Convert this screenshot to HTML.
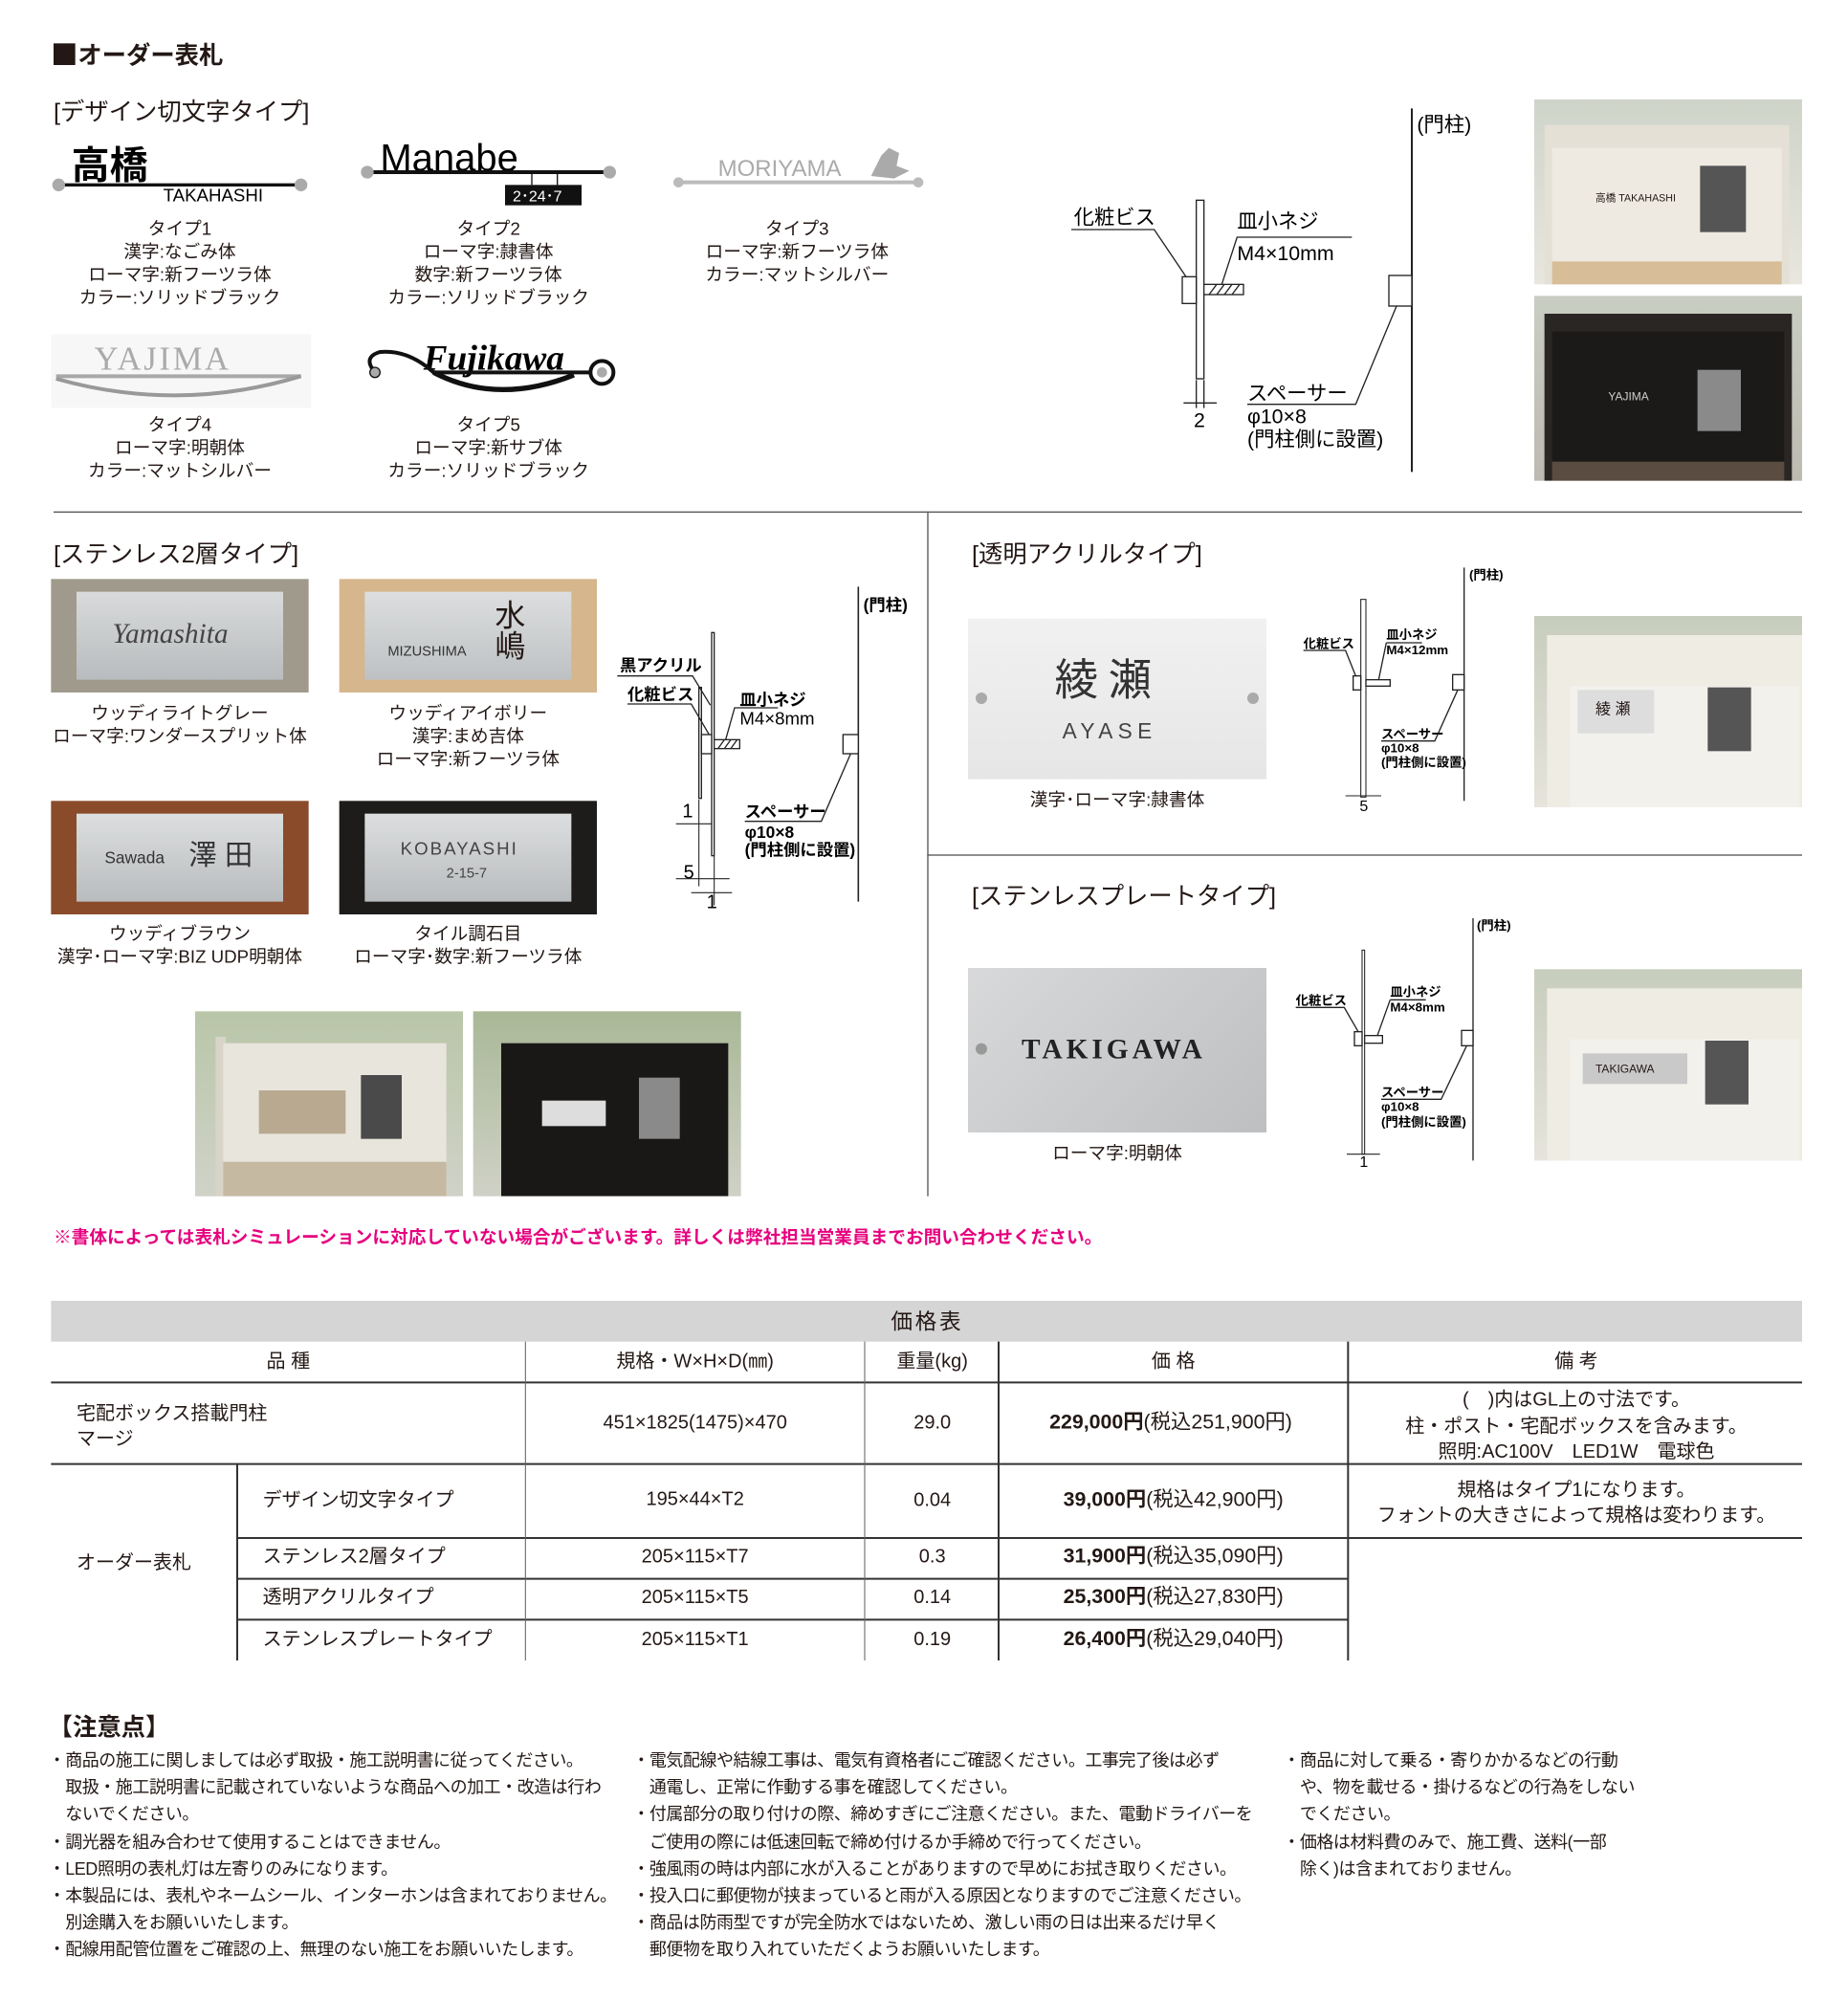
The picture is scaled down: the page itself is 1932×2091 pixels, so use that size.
<!DOCTYPE html>
<html><head><meta charset="utf-8"><style>
html,body{margin:0;padding:0;background:#fff}
body{width:1932px;height:2090px;overflow:hidden;position:relative}
#w{position:absolute;left:0;top:0;width:1449px;height:1568px;transform:scale(1.33333);transform-origin:0 0;font-family:"Liberation Sans","Noto Sans CJK JP",sans-serif;color:#231815}
.a{position:absolute;white-space:nowrap;line-height:1}
.c{position:absolute;text-align:center;font-size:14px;line-height:18px;width:260px;white-space:nowrap}
.h{font-size:19px;font-weight:bold}
.p{position:absolute;overflow:hidden}
.tb{position:absolute;font-size:15px;line-height:1;white-space:nowrap}
.n{position:absolute;font-size:13.5px;line-height:21.2px;white-space:nowrap;letter-spacing:-0.35px}
</style></head><body><div id="w">

<div class="a h" style="left:42px;top:34px"><span style="display:inline-block;width:17px;height:17px;background:#231815;vertical-align:-1px;margin-right:2px"></span>オーダー表札</div>
<div class="a h" style="left:42px;top:79px;font-weight:normal;font-size:19px">[デザイン切文字タイプ]</div>

<!-- type 1 -->
<svg class="p" style="left:40px;top:108px" width="204" height="54">
<text x="16" y="32" font-size="30" font-weight="bold" font-family="Noto Sans CJK JP">高橋</text>
<line x1="6" y1="37" x2="196" y2="37" stroke="#111" stroke-width="2.5"/>
<circle cx="6" cy="37" r="5" fill="#aaa"/><circle cx="196" cy="37" r="5" fill="#aaa"/>
<text x="88" y="50" font-size="14" font-family="Liberation Sans">TAKAHASHI</text></svg>
<div class="c" style="left:11px;top:170px">タイプ1<br>漢字:なごみ体<br>ローマ字:新フーツラ体<br>カラー:ソリッドブラック</div>
<!-- type 2 -->
<svg class="p" style="left:282px;top:104px" width="204" height="60">
<text x="16" y="30" font-size="30" font-family="Liberation Sans">Manabe</text>
<line x1="6" y1="31" x2="196" y2="31" stroke="#111" stroke-width="3"/>
<circle cx="6" cy="31" r="5" fill="#aaa"/><circle cx="196" cy="31" r="5" fill="#aaa"/>
<rect x="114" y="41" width="60" height="16" fill="#111"/>
<line x1="135" y1="31" x2="135" y2="41" stroke="#111"/><line x1="155" y1="31" x2="155" y2="41" stroke="#111"/>
<text x="120" y="54" font-size="12" fill="#fff" font-family="Liberation Sans">2･24･7</text></svg>
<div class="c" style="left:253px;top:170px">タイプ2<br>ローマ字:隷書体<br>数字:新フーツラ体<br>カラー:ソリッドブラック</div>
<!-- type 3 -->
<svg class="p" style="left:525px;top:110px" width="202" height="44">
<text x="38" y="28" font-size="18" fill="#aaa" font-family="Liberation Sans">MORIYAMA</text>
<path d="M4 33 H198" stroke="#bbb" stroke-width="3"/><circle cx="7" cy="33" r="4" fill="#bbb"/><circle cx="195" cy="33" r="4" fill="#bbb"/>
<path d="M158 28 L166 12 L172 6 L180 10 L178 20 L188 24 L176 30Z" fill="#aaa"/></svg>
<div class="c" style="left:495px;top:170px">タイプ3<br>ローマ字:新フーツラ体<br>カラー:マットシルバー</div>
<!-- type 4 -->
<svg class="p" style="left:40px;top:262px" width="204" height="58">
<rect width="204" height="58" fill="#f7f7f7"/>
<text x="34" y="28" font-size="26" fill="#aaa" font-family="Liberation Serif" letter-spacing="2">YAJIMA</text>
<line x1="4" y1="33" x2="196" y2="33" stroke="#a8a8a8" stroke-width="3"/>
<path d="M4 35 Q100 62 196 33" stroke="#999" stroke-width="3" fill="none"/></svg>
<div class="c" style="left:11px;top:324px">タイプ4<br>ローマ字:明朝体<br>カラー:マットシルバー</div>
<!-- type 5 -->
<svg class="p" style="left:280px;top:262px" width="210" height="58">
<text x="52" y="28" font-size="28" font-style="italic" font-weight="bold" font-family="Liberation Serif">Fujikawa</text>
<path d="M14 30 Q4 18 18 14 Q40 12 60 30 H190" stroke="#111" stroke-width="3" fill="none"/>
<path d="M60 30 Q110 56 170 32" stroke="#111" stroke-width="4" fill="none"/>
<circle cx="14" cy="30" r="4" fill="#aaa" stroke="#111"/>
<circle cx="192" cy="30" r="9" fill="#fff" stroke="#111" stroke-width="3"/><circle cx="192" cy="30" r="4" fill="#aaa"/></svg>
<div class="c" style="left:253px;top:324px">タイプ5<br>ローマ字:新サブ体<br>カラー:ソリッドブラック</div>

<!-- diagram 1 -->
<svg class="p" style="left:830px;top:80px" width="350" height="300" font-family="Liberation Sans,Noto Sans CJK JP" font-size="16">
<line x1="277" y1="5" x2="277" y2="290" stroke="#222" stroke-width="1.5"/>
<text x="281" y="23">(門柱)</text>
<rect x="108" y="77" width="6" height="140" fill="#fff" stroke="#222"/>
<rect x="97" y="137" width="11" height="21" fill="#fff" stroke="#222"/>
<rect x="114" y="143" width="31" height="8" fill="#fff" stroke="#222"/>
<path d="M118 151 l6 -8 M124 151 l6 -8 M130 151 l6 -8 M136 151 l6 -8" stroke="#222"/>
<rect x="259" y="136" width="18" height="24" fill="#fff" stroke="#222"/>
<text x="12" y="96">化粧ビス</text><path d="M10 100 H75 L100 137" stroke="#222" fill="none"/>
<text x="140" y="99">皿小ネジ</text><path d="M230 106 H140 L128 143" stroke="#222" fill="none"/>
<text x="140" y="124">M4×10mm</text>
<text x="106" y="255">2</text><path d="M108 218 V240 M114 218 V240 M98 236 H124" stroke="#222"/>
<text x="148" y="234">スペーサー</text><path d="M148 237 H233 L265 160" stroke="#222" fill="none"/>
<text x="148" y="252">φ10×8</text><text x="148" y="270">(門柱側に設置)</text></svg>

<!-- photos top -->
<div class="p" style="left:1203px;top:78px;width:210px;height:145px;background:linear-gradient(#cfd4c9,#e8e6df)">
<div class="p" style="left:8px;top:20px;width:192px;height:125px;background:#e4e0d6"></div>
<div class="p" style="left:14px;top:38px;width:180px;height:90px;background:#eeeae2"></div>
<div class="p" style="left:14px;top:127px;width:180px;height:18px;background:#d7bd98"></div>
<div class="p" style="left:130px;top:52px;width:36px;height:52px;background:#555"></div>
<div class="a" style="left:48px;top:74px;font-size:8px">高橋 TAKAHASHI</div></div>
<div class="p" style="left:1203px;top:232px;width:210px;height:145px;background:linear-gradient(#c8cdc2,#bdbab2)">
<div class="p" style="left:8px;top:14px;width:194px;height:131px;background:#2a2624"></div>
<div class="p" style="left:14px;top:28px;width:182px;height:102px;background:#1c1a19"></div>
<div class="p" style="left:128px;top:58px;width:34px;height:48px;background:#8a8a8a"></div>
<div class="p" style="left:14px;top:130px;width:182px;height:15px;background:#5a4c40"></div>
<div class="a" style="left:58px;top:75px;font-size:9px;color:#ccc">YAJIMA</div></div>

<div class="p" style="left:42px;top:401px;width:1371px;height:1px;background:#555"></div>
<div class="p" style="left:727px;top:401px;width:1px;height:537px;background:#555"></div>
<div class="p" style="left:727px;top:670px;width:686px;height:1px;background:#555"></div>

<!-- stainless 2 -->
<div class="a h" style="left:42px;top:426px;font-weight:normal">[ステンレス2層タイプ]</div>
<div class="p" style="left:40px;top:454px;width:202px;height:89px;background:#a09a8c"><div class="p" style="left:20px;top:10px;width:162px;height:69px;background:linear-gradient(#d8dadb,#b9bcbe)"></div><div class="a" style="left:48px;top:32px;font-size:22px;font-style:italic;font-family:'Liberation Serif';color:#444">Yamashita</div></div>
<div class="p" style="left:266px;top:454px;width:202px;height:89px;background:#d6b68d"><div class="p" style="left:20px;top:10px;width:162px;height:69px;background:linear-gradient(#dcdedf,#bec1c3)"></div><div class="a" style="left:38px;top:52px;font-size:11px;color:#333">MIZUSHIMA</div><div class="a" style="left:122px;top:18px;font-size:24px;line-height:24px">水<br>嶋</div></div>
<div class="c" style="left:11px;top:550px">ウッディライトグレー<br>ローマ字:ワンダースプリット体</div>
<div class="c" style="left:237px;top:550px">ウッディアイボリー<br>漢字:まめ吉体<br>ローマ字:新フーツラ体</div>
<div class="p" style="left:40px;top:628px;width:202px;height:89px;background:#8a4b2a"><div class="p" style="left:20px;top:10px;width:162px;height:69px;background:linear-gradient(#dcdedf,#b9bcbe)"></div><div class="a" style="left:42px;top:38px;font-size:13px;color:#333">Sawada</div><div class="a" style="left:108px;top:32px;font-size:22px;color:#333">澤 田</div></div>
<div class="p" style="left:266px;top:628px;width:202px;height:89px;background:#1e1c1b"><div class="p" style="left:20px;top:10px;width:162px;height:69px;background:linear-gradient(#dcdedf,#b9bcbe)"></div><div class="a" style="left:48px;top:30px;font-size:14px;letter-spacing:1.5px;color:#444">KOBAYASHI</div><div class="a" style="left:84px;top:52px;font-size:11px;color:#444">2-15-7</div></div>
<div class="c" style="left:11px;top:723px">ウッディブラウン<br>漢字･ローマ字:BIZ UDP明朝体</div>
<div class="c" style="left:237px;top:723px">タイル調石目<br>ローマ字･数字:新フーツラ体</div>

<svg class="p" style="left:480px;top:455px" width="245" height="260" font-family="Liberation Sans,Noto Sans CJK JP" font-size="13" font-weight="bold">
<line x1="193" y1="5" x2="193" y2="252" stroke="#222" stroke-width="1.2"/>
<text x="197" y="24">(門柱)</text>
<rect x="78" y="41" width="2" height="175" fill="#fff" stroke="#222" stroke-width="1"/>
<rect x="68" y="84" width="2" height="87" fill="#fff" stroke="#222" stroke-width="1"/>
<rect x="70" y="121" width="8" height="15" fill="#fff" stroke="#222"/>
<rect x="80" y="125" width="20" height="7" fill="#fff" stroke="#222"/>
<path d="M83 132 l5 -7 M88 132 l5 -7 M93 132 l5 -7" stroke="#222"/>
<rect x="181" y="121" width="12" height="15" fill="#fff" stroke="#222"/>
<text x="6" y="71">黒アクリル</text><path d="M4 75 H63 L77 98" stroke="#222" fill="none"/>
<text x="12" y="94">化粧ビス</text><path d="M12 97 H62 L76 121" stroke="#222" fill="none"/>
<text x="100" y="98">皿小ネジ</text><path d="M130 100 H96 L89 125" stroke="#222" fill="none"/>
<text x="100" y="113" font-weight="normal" font-size="14">M4×8mm</text>
<text x="104" y="186">スペーサー</text><path d="M104 189 H164 L187 136" stroke="#222" fill="none"/>
<text x="104" y="202">φ10×8</text><text x="104" y="216">(門柱側に設置)</text>
<text x="55" y="186" font-weight="normal" font-size="15">1</text><text x="56" y="234" font-weight="normal" font-size="15">5</text><text x="74" y="257" font-weight="normal" font-size="15">1</text>
<path d="M50 191 H78 M50 234 H92 M68 172 V240 M80 216 V255 M62 245 H94" stroke="#222" stroke-width=".8"/></svg>

<div class="p" style="left:153px;top:793px;width:210px;height:145px;background:linear-gradient(#b9c6a8,#d0d2c8)"><div class="p" style="left:16px;top:20px;width:8px;height:125px;background:#d8d4c8"></div><div class="p" style="left:22px;top:25px;width:175px;height:120px;background:#e8e5dc"></div><div class="p" style="left:50px;top:62px;width:68px;height:34px;background:#b8a990"></div><div class="p" style="left:130px;top:50px;width:32px;height:50px;background:#4a4a4a"></div><div class="p" style="left:22px;top:118px;width:175px;height:27px;background:#c6b9a2"></div></div>
<div class="p" style="left:371px;top:793px;width:210px;height:145px;background:linear-gradient(#a9b897,#cfd1c6)"><div class="p" style="left:22px;top:25px;width:178px;height:120px;background:#1a1817"></div><div class="p" style="left:54px;top:70px;width:50px;height:20px;background:#ddd"></div><div class="p" style="left:130px;top:52px;width:32px;height:48px;background:#8a8a8a"></div></div>

<div class="a" style="left:42px;top:963px;font-size:14px;font-weight:bold;color:#e6007e">※書体によっては表札シミュレーションに対応していない場合がございます。詳しくは弊社担当営業員までお問い合わせください。</div>

<!-- acrylic -->
<div class="a h" style="left:762px;top:426px;font-weight:normal">[透明アクリルタイプ]</div>
<div class="p" style="left:759px;top:485px;width:234px;height:126px;background:linear-gradient(#f1f1f1,#e6e6e6)"><div class="a" style="left:68px;top:32px;font-size:34px;letter-spacing:8px;color:#333">綾瀬</div><div class="a" style="left:74px;top:80px;font-size:17px;letter-spacing:4px;color:#444">AYASE</div><div class="p" style="left:6px;top:58px;width:9px;height:9px;border-radius:50%;background:#aaa"></div><div class="p" style="left:219px;top:58px;width:9px;height:9px;border-radius:50%;background:#aaa"></div></div>
<div class="a" style="left:876px;top:620px;font-size:14px;transform:translateX(-50%)">漢字･ローマ字:隷書体</div>
<svg class="p" style="left:1015px;top:440px" width="170" height="200" font-family="Liberation Sans,Noto Sans CJK JP" font-size="10" font-weight="bold">
<line x1="133" y1="5" x2="133" y2="188" stroke="#222"/>
<text x="137" y="14">(門柱)</text>
<rect x="52" y="30" width="4" height="155" fill="#fff" stroke="#222" stroke-width=".8"/>
<rect x="46" y="90" width="6" height="11" fill="#fff" stroke="#222"/>
<rect x="56" y="93" width="19" height="5" fill="#fff" stroke="#222"/>
<rect x="124" y="89" width="9" height="12" fill="#fff" stroke="#222"/>
<text x="7" y="68">化粧ビス</text><path d="M7 70 H40 L48 90" stroke="#222" fill="none"/>
<text x="72" y="61">皿小ネジ</text><path d="M72 64 H100 M72 64 L66 93" stroke="#222" fill="none"/>
<text x="72" y="73">M4×12mm</text>
<text x="68" y="139">スペーサー</text><path d="M68 141 H110 L128 101" stroke="#222" fill="none"/>
<text x="68" y="150">φ10×8</text><text x="68" y="161">(門柱側に設置)</text>
<text x="51" y="196" font-weight="normal" font-size="12">5</text><path d="M40 184 H68" stroke="#222" stroke-width=".8"/></svg>
<div class="p" style="left:1203px;top:483px;width:210px;height:150px;background:linear-gradient(#c7cdbd,#e6e4dc)"><div class="p" style="left:10px;top:15px;width:200px;height:135px;background:#efece4"></div><div class="p" style="left:28px;top:55px;width:180px;height:95px;background:#f3f1ec"></div><div class="p" style="left:34px;top:58px;width:60px;height:34px;background:#ddd"></div><div class="a" style="left:48px;top:67px;font-size:12px">綾 瀬</div><div class="p" style="left:136px;top:56px;width:34px;height:50px;background:#555"></div></div>

<!-- stainless plate -->
<div class="a h" style="left:762px;top:694px;font-weight:normal">[ステンレスプレートタイプ]</div>
<div class="p" style="left:759px;top:759px;width:234px;height:129px;background:linear-gradient(135deg,#d8d9da,#bdbfc1)"><div class="a" style="left:42px;top:53px;font-size:22px;font-weight:bold;letter-spacing:3px;font-family:'Liberation Serif';color:#222">TAKIGAWA</div><div class="p" style="left:6px;top:59px;width:9px;height:9px;border-radius:50%;background:#999"></div></div>
<div class="a" style="left:876px;top:897px;font-size:14px;transform:translateX(-50%)">ローマ字:明朝体</div>
<svg class="p" style="left:1010px;top:715px" width="180" height="205" font-family="Liberation Sans,Noto Sans CJK JP" font-size="10" font-weight="bold">
<line x1="145" y1="5" x2="145" y2="195" stroke="#222"/>
<text x="148" y="14">(門柱)</text>
<rect x="58" y="30" width="2" height="160" fill="#fff" stroke="#222" stroke-width=".8"/>
<rect x="52" y="94" width="6" height="11" fill="#fff" stroke="#222"/>
<rect x="60" y="97" width="14" height="6" fill="#fff" stroke="#222"/>
<rect x="136" y="93" width="9" height="12" fill="#fff" stroke="#222"/>
<text x="6" y="73">化粧ビス</text><path d="M6 75 H44 L55 94" stroke="#222" fill="none"/>
<text x="80" y="66">皿小ネジ</text><path d="M80 69 H108 M80 69 L70 97" stroke="#222" fill="none"/>
<text x="80" y="78">M4×8mm</text>
<text x="73" y="145">スペーサー</text><path d="M73 147 H120 L140 105" stroke="#222" fill="none"/>
<text x="73" y="156">φ10×8</text><text x="73" y="168">(門柱側に設置)</text>
<text x="56" y="200" font-weight="normal" font-size="12">1</text><path d="M46 190 H72" stroke="#222" stroke-width=".8"/></svg>
<div class="p" style="left:1203px;top:760px;width:210px;height:150px;background:linear-gradient(#c7cdbd,#e6e4dc)"><div class="p" style="left:10px;top:15px;width:200px;height:135px;background:#efece4"></div><div class="p" style="left:28px;top:55px;width:180px;height:95px;background:#f3f1ec"></div><div class="p" style="left:38px;top:66px;width:82px;height:24px;background:#c9c9c9"></div><div class="a" style="left:48px;top:74px;font-size:9px">TAKIGAWA</div><div class="p" style="left:134px;top:56px;width:34px;height:50px;background:#555"></div></div>

<!-- table -->
<div class="p" style="left:40px;top:1020px;width:1373px;height:32px;background:#d5d5d6"></div>
<div class="tb" style="left:727px;top:1028px;font-size:17px;transform:translateX(-50%);letter-spacing:2px">価格表</div>
<svg class="p" style="left:0;top:1050px" width="1449" height="260">
<g stroke="#333" stroke-width="1.5">
<line x1="40" y1="34" x2="1413" y2="34"/><line x1="40" y1="98" x2="1413" y2="98"/>
<line x1="186" y1="156" x2="1413" y2="156"/><line x1="186" y1="188" x2="1057" y2="188"/><line x1="186" y1="220" x2="1057" y2="220"/>
<line x1="186" y1="98" x2="186" y2="252"/><line x1="783" y1="2" x2="783" y2="252"/><line x1="1057" y1="2" x2="1057" y2="252"/></g>
<g stroke="#666" stroke-width=".8"><line x1="412" y1="2" x2="412" y2="252"/><line x1="678" y1="2" x2="678" y2="252"/></g></svg>
<div class="tb" style="left:226px;top:1060px;transform:translateX(-50%)">品 種</div>
<div class="tb" style="left:545px;top:1060px;transform:translateX(-50%)">規格・W×H×D(㎜)</div>
<div class="tb" style="left:731px;top:1060px;transform:translateX(-50%)">重量(kg)</div>
<div class="tb" style="left:920px;top:1060px;transform:translateX(-50%)">価 格</div>
<div class="tb" style="left:1236px;top:1060px;transform:translateX(-50%)">備 考</div>
<div class="tb" style="left:60px;top:1099px;line-height:20px">宅配ボックス搭載門柱<br>マージ</div>
<div class="tb" style="left:545px;top:1108px;transform:translateX(-50%)">451×1825(1475)×470</div>
<div class="tb" style="left:731px;top:1108px;transform:translateX(-50%)">29.0</div>
<div class="tb" style="left:918px;top:1108px;transform:translateX(-50%);font-size:16px"><b>229,000円</b>(税込251,900円)</div>
<div class="tb" style="left:1236px;top:1088px;transform:translateX(-50%);text-align:center;line-height:20.5px">(　)内はGL上の寸法です。<br>柱・ポスト・宅配ボックスを含みます。<br>照明:AC100V　LED1W　電球色</div>
<div class="tb" style="left:206px;top:1169px">デザイン切文字タイプ</div>
<div class="tb" style="left:545px;top:1168px;transform:translateX(-50%)">195×44×T2</div>
<div class="tb" style="left:731px;top:1169px;transform:translateX(-50%)">0.04</div>
<div class="tb" style="left:920px;top:1169px;transform:translateX(-50%);font-size:16px"><b>39,000円</b>(税込42,900円)</div>
<div class="tb" style="left:1236px;top:1159px;transform:translateX(-50%);text-align:center;line-height:20px">規格はタイプ1になります。<br>フォントの大きさによって規格は変わります。</div>
<div class="tb" style="left:60px;top:1218px">オーダー表札</div>
<div class="tb" style="left:206px;top:1213px">ステンレス2層タイプ</div>
<div class="tb" style="left:545px;top:1213px;transform:translateX(-50%)">205×115×T7</div>
<div class="tb" style="left:731px;top:1213px;transform:translateX(-50%)">0.3</div>
<div class="tb" style="left:920px;top:1213px;transform:translateX(-50%);font-size:16px"><b>31,900円</b>(税込35,090円)</div>
<div class="tb" style="left:206px;top:1245px">透明アクリルタイプ</div>
<div class="tb" style="left:545px;top:1245px;transform:translateX(-50%)">205×115×T5</div>
<div class="tb" style="left:731px;top:1245px;transform:translateX(-50%)">0.14</div>
<div class="tb" style="left:920px;top:1245px;transform:translateX(-50%);font-size:16px"><b>25,300円</b>(税込27,830円)</div>
<div class="tb" style="left:206px;top:1278px">ステンレスプレートタイプ</div>
<div class="tb" style="left:545px;top:1278px;transform:translateX(-50%)">205×115×T1</div>
<div class="tb" style="left:731px;top:1278px;transform:translateX(-50%)">0.19</div>
<div class="tb" style="left:920px;top:1278px;transform:translateX(-50%);font-size:16px"><b>26,400円</b>(税込29,040円)</div>

<!-- notes -->
<div class="a h" style="left:38px;top:1346px">【注意点】</div>
<div class="n" style="left:38px;top:1370px">・商品の施工に関しましては必ず取扱・施工説明書に従ってください。<br>　取扱・施工説明書に記載されていないような商品への加工・改造は行わ<br>　ないでください。<br>・調光器を組み合わせて使用することはできません。<br>・LED照明の表札灯は左寄りのみになります。<br>・本製品には、表札やネームシール、インターホンは含まれておりません。<br>　別途購入をお願いいたします。<br>・配線用配管位置をご確認の上、無理のない施工をお願いいたします。</div>
<div class="n" style="left:496px;top:1370px">・電気配線や結線工事は、電気有資格者にご確認ください。工事完了後は必ず<br>　通電し、正常に作動する事を確認してください。<br>・付属部分の取り付けの際、締めすぎにご注意ください。また、電動ドライバーを<br>　ご使用の際には低速回転で締め付けるか手締めで行ってください。<br>・強風雨の時は内部に水が入ることがありますので早めにお拭き取りください。<br>・投入口に郵便物が挟まっていると雨が入る原因となりますのでご注意ください。<br>・商品は防雨型ですが完全防水ではないため、激しい雨の日は出来るだけ早く<br>　郵便物を取り入れていただくようお願いいたします。</div>
<div class="n" style="left:1006px;top:1370px">・商品に対して乗る・寄りかかるなどの行動<br>　や、物を載せる・掛けるなどの行為をしない<br>　でください。<br>・価格は材料費のみで、施工費、送料(一部<br>　除く)は含まれておりません。</div>

</div></body></html>
